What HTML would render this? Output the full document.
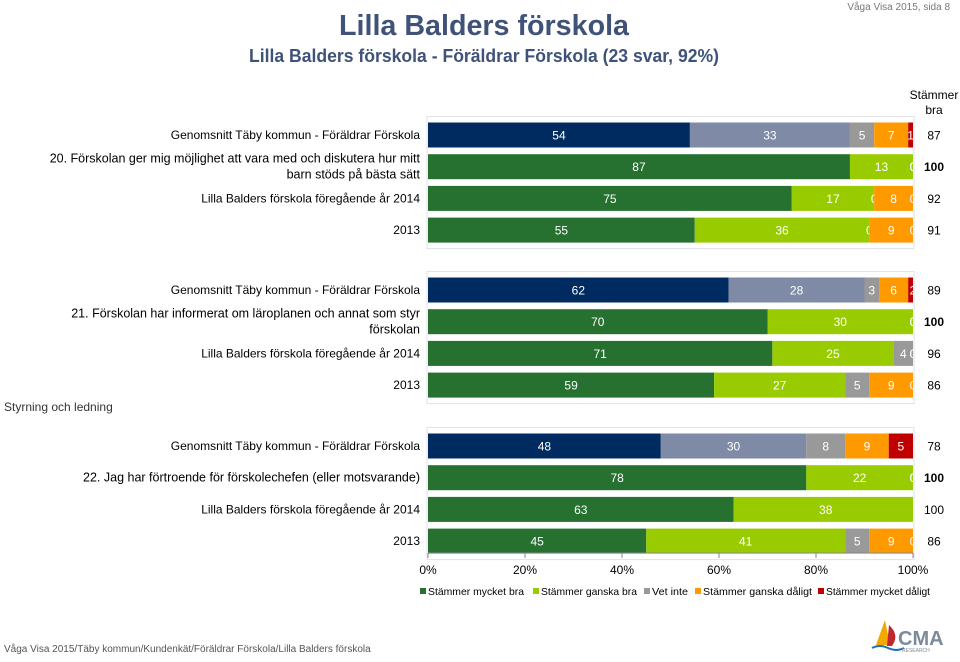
<!DOCTYPE html>
<html><head><meta charset="utf-8"><style>
body{margin:0;background:#fff}
svg text{font-family:"Liberation Sans",sans-serif}
</style></head><body>
<svg width="960" height="657" viewBox="0 0 960 657" xmlns="http://www.w3.org/2000/svg" id="svg">
<text x="950" y="10" font-size="10" fill="#777" text-anchor="end">Våga Visa 2015, sida 8</text>
<text x="484" y="35" font-size="29" font-weight="bold" fill="#3f5278" text-anchor="middle" textLength="290" lengthAdjust="spacingAndGlyphs">Lilla Balders förskola</text>
<text x="484" y="62" font-size="18" font-weight="bold" fill="#3f5278" text-anchor="middle" textLength="470" lengthAdjust="spacingAndGlyphs">Lilla Balders förskola - Föräldrar Förskola (23 svar, 92%)</text>
<text x="934" y="99" font-size="12" fill="#000" text-anchor="middle">Stämmer</text>
<text x="934" y="114" font-size="12" fill="#000" text-anchor="middle">bra</text>
<text x="4" y="411" font-size="12" fill="#333">Styrning och ledning</text>
<g id="plot"></g>
<text x="4" y="652" font-size="10" fill="#555">Våga Visa 2015/Täby kommun/Kundenkät/Föräldrar Förskola/Lilla Balders förskola</text>
<g>
<path d="M885 620 L876 645 L890 645 Z" fill="#f2a900"/>
<path d="M889 625 Q900 635 892 646 L887 646 Z" fill="#c0282d"/>
<path d="M872 648 Q880 644 888 648 Q896 652 904 648" stroke="#1f6fb2" stroke-width="2" fill="none"/>
<text x="898" y="645" font-size="20" font-weight="bold" fill="#7c8b99">CMA</text>
<text x="902" y="652" font-size="5" fill="#7c8b99">RESEARCH</text>
</g>
</svg>
<script>
const questions = ["20. Förskolan ger mig möjlighet att vara med och diskutera hur mitt|barn stöds på bästa sätt","21. Förskolan har informerat om läroplanen och annat som styr|förskolan","22. Jag har förtroende för förskolechefen (eller motsvarande)"];
const rowLabels = ["Genomsnitt Täby kommun - Föräldrar Förskola","","Lilla Balders förskola föregående år 2014","2013"];
const q1 = [[54,33,5,7,1],[87,13,0,0,0],[75,17,0,8,0],[55,36,0,9,0]];
const q2 = [[62,28,3,6,2],[70,30,0,0,0],[71,25,4,0,0],[59,27,5,9,0]];
const q3 = [[48,30,8,9,5],[78,22,0,0,0],[63,38,0,0,0],[45,41,5,9,0]];
const totals1 = [87,100,92,91];
const totals2 = [89,100,96,86];
const totals3 = [78,100,100,86];
const ticks = [0,20,40,60,80,100];
const seriesNames = ["Stämmer mycket bra","Stämmer ganska bra","Vet inte","Stämmer ganska dåligt","Stämmer mycket dåligt"];
const colors = ["#267030","#99cc00","#999999","#ff9900","#c00000"];
const avgColors = ["#002b60","#7f8aa6","#999999","#ff9900","#c00000"];

const NS="http://www.w3.org/2000/svg";
const plot=document.getElementById('plot');
const X0=428,X1=913;
const x=v=>X0+(X1-X0)*v/100;
const groupTop=[135,290,446], pitch=31.7, bh=25;
function mk(tag,attrs,parent){const e=document.createElementNS(NS,tag);for(const k in attrs)e.setAttribute(k,attrs[k]);(parent||plot).appendChild(e);return e;}
const defs=mk('defs',{});
const cp=mk('clipPath',{id:'clip'},defs);
mk('rect',{x:X0,y:0,width:X1-X0,height:657},cp);
const groups=[q1,q2,q3], totals=[totals1,totals2,totals3];
groups.forEach((g,gi)=>{
  const gt=groupTop[gi];
  const frame=mk('rect',{x:X0-1,y:gt-bh/2-6,width:X1-X0+2,height:pitch*3+bh+12,fill:'none',stroke:'#e2e2ea'});
  
  
  const ql=questions[gi].split('|');
  ql.forEach((l,li)=>{
    const t=mk('text',{x:420,y:gt+pitch-(ql.length-1)*8+li*16+4,'font-size':12.5,'text-anchor':'end',fill:'#000'});
    t.textContent=l;
    
    
  });
  g.forEach((row,ri)=>{
    const cy=gt+ri*pitch;
    if(rowLabels[ri]){
      const t=mk('text',{x:420,y:cy+4,'font-size':12,'text-anchor':'end',fill:'#000'});
      t.textContent=rowLabels[ri];
      
      
    }
    const cols=ri===0?avgColors:colors;
    const rg=mk('g',{'clip-path':'url(#clip)'});
    let acc=0;
    row.forEach((v,si)=>{
      const r=mk('rect',{x:x(acc),y:cy-bh/2,width:x(acc+v)-x(acc),height:bh,fill:cols[si]},rg);
      
      
      const t=mk('text',{x:x(acc+v/2),y:cy+4.5,'font-size':12,'text-anchor':'middle',fill:'#fff'},rg);
      t.textContent=v;
      
      
      acc+=v;
    });
    const tt=mk('text',{x:934,y:cy+4.5,'font-size':12,'text-anchor':'middle',fill:'#000','font-weight':totals[gi][ri]===100&&ri===1?'bold':'normal'});
    tt.textContent=totals[gi][ri];
    
    
  });
});
const ay=553;
const ax=mk('line',{x1:X0,y1:ay,x2:X1,y2:ay,stroke:'#888'});


ticks.forEach(v=>{
  const l=mk('line',{x1:x(v),y1:ay,x2:x(v),y2:ay+5,stroke:'#888'});
  
  
  const t=mk('text',{x:x(v),y:ay+21,'font-size':12,'text-anchor':'middle',fill:'#000'});
  t.textContent=v+'%';
  
  
});
const lStart=[420,533,644,695,818];
const lLen=[96,96,36,109,104];
seriesNames.forEach((n,i)=>{
  const s=mk('rect',{x:lStart[i],y:588,width:6,height:6,fill:colors[i]});
  
  
  const t=mk('text',{x:lStart[i]+8,y:595,'font-size':10.5,fill:'#000',textLength:lLen[i],lengthAdjust:'spacingAndGlyphs'});
  t.textContent=n;
  
  
});
</script>
</body></html>
